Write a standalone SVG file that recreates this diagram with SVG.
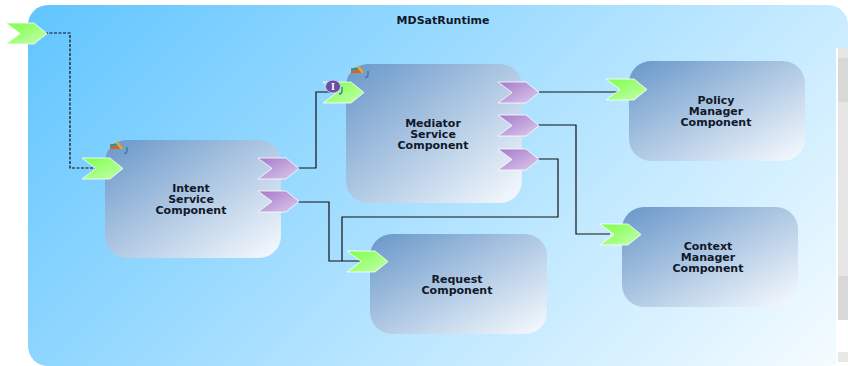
<svg xmlns="http://www.w3.org/2000/svg" width="848" height="366" viewBox="0 0 848 366">
<style>
.n{fill:url(#ng)}
.l{font:bold 11px "DejaVu Sans",sans-serif;fill:#10182a;text-anchor:middle}
.c{fill:none;stroke:#111;stroke-width:1.2}
.pi{fill:url(#pg);stroke:#fff;stroke-width:.8}
.po{fill:url(#pp);stroke:#fff;stroke-width:.8}
</style>
<defs>
<linearGradient id="bg" gradientUnits="userSpaceOnUse" x1="28" y1="5" x2="618" y2="595"><stop offset="0" stop-color="#60c5ff"/><stop offset="1" stop-color="#f6fcff"/></linearGradient>
<linearGradient id="ng" x1="0" y1="0" x2="1" y2="1"><stop offset="0" stop-color="#6897c9"/><stop offset="1" stop-color="#f8fbfe"/></linearGradient>
<linearGradient id="pg" x1="0" y1="0" x2="1" y2="1"><stop offset="0" stop-color="#7dff48"/><stop offset="1" stop-color="#c4ffae"/></linearGradient>
<linearGradient id="pp" x1="0" y1="0" x2="1" y2="1"><stop offset="0" stop-color="#a578cc"/><stop offset="1" stop-color="#ddcbea"/></linearGradient>
<path id="pin" d="M0 0H28L41 10.500L28 21H0L14 10.500Z"/>
<g id="tool"><path d="M0 3.500L8 2V4.500L0 5Z" fill="#2f8f78"/><rect x="0" y="5" width="10" height="3" fill="#c8693a"/><path d="M7 0L13 7L11 8.500L6 2.500Z" fill="#f0a820"/><path d="M17 6V10Q17 12.500 14 12.500" fill="none" stroke="#3f74a8" stroke-width="1.300"/></g>
</defs>
<g id="runtime"><rect x="28" y="5" width="820" height="361" rx="20" fill="url(#bg)"/>
<text class="l" x="443" y="24">MDSatRuntime</text></g>
<g id="scrollbar"><rect x="836" y="48" width="12" height="318" fill="#fff"/><rect x="838" y="48" width="10" height="272" fill="#e6e6e6"/><rect x="838" y="58" width="10" height="44" fill="#d8d8d8"/><rect x="838" y="276" width="10" height="44" fill="#d8d8d8"/><rect x="838" y="352" width="10" height="10" fill="#e8e8e8"/></g>
<g id="connectors">
<path class="c" stroke-dasharray="3 1.500" d="M45 33H70V168H97"/>
<path class="c" d="M298 168H316V92H340"/>
<path class="c" d="M298 202H329V261H360"/>
<path class="c" d="M539 92H620"/>
<path class="c" d="M538 125H576V234H610"/>
<path class="c" d="M538 159H558V217H342V261"/>
</g>
<g id="intent"><rect class="n" x="105" y="140" width="176" height="118" rx="22"/>
<text class="l"><tspan x="191" y="192">Intent</tspan><tspan x="191" y="203">Service</tspan><tspan x="191" y="214">Component</tspan></text>
<use href="#tool" x="110" y="141"/></g>
<g id="mediator"><rect class="n" x="346" y="64" width="176" height="139" rx="22"/>
<text class="l"><tspan x="433" y="127">Mediator</tspan><tspan x="433" y="138">Service</tspan><tspan x="433" y="149">Component</tspan></text>
<use href="#tool" x="351" y="65"/></g>
<g id="policy"><rect class="n" x="629" y="61" width="176" height="100" rx="22"/>
<text class="l"><tspan x="716" y="104">Policy</tspan><tspan x="716" y="115">Manager</tspan><tspan x="716" y="126">Component</tspan></text></g>
<g id="context"><rect class="n" x="622" y="207" width="176" height="100" rx="22"/>
<text class="l"><tspan x="708" y="250">Context</tspan><tspan x="708" y="261">Manager</tspan><tspan x="708" y="272">Component</tspan></text></g>
<g id="request"><rect class="n" x="370" y="234" width="177" height="100" rx="22"/>
<text class="l"><tspan x="457" y="283">Request</tspan><tspan x="457" y="294">Component</tspan></text></g>
<g id="ports">
<use href="#pin" class="pi" x="6" y="23"/>
<use href="#pin" class="pi" x="82" y="158"/>
<use href="#pin" class="pi" x="323" y="82"/>
<use href="#pin" class="pi" x="606" y="79"/>
<use href="#pin" class="pi" x="600" y="224"/>
<use href="#pin" class="pi" x="347" y="251"/>
<use href="#pin" class="po" x="258" y="158"/>
<use href="#pin" class="po" x="258" y="191"/>
<use href="#pin" class="po" x="498" y="82"/>
<use href="#pin" class="po" x="498" y="115"/>
<use href="#pin" class="po" x="498" y="149"/>
</g>
<g id="interface"><ellipse cx="333" cy="86.500" rx="7.500" ry="6.500" fill="#6a4fa8" stroke="#cfc6ea"/><text x="333" y="90" style="font:bold 10px 'Liberation Serif',serif;fill:#fff;text-anchor:middle">I</text><path d="M342 87V91Q342 94 339 94" fill="none" stroke="#3f74a8" stroke-width="1.300"/></g>
</svg>
